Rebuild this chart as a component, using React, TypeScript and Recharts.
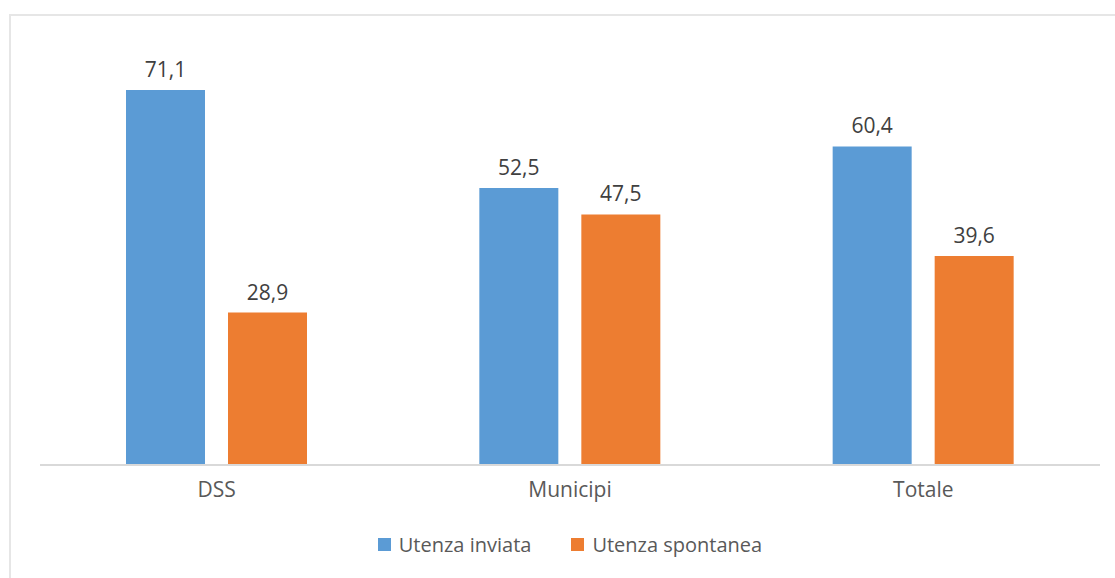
import React from "react";
import { BarChart, Bar, XAxis, YAxis, LabelList } from "recharts";

const categories = ["DSS", "Municipi", "Totale"];
const utenzaInviata = [71.1, 52.5, 60.4];
const utenzaSpontanea = [28.9, 47.5, 39.6];
const seriesNames = ["Utenza inviata", "Utenza spontanea"];
const colors = ["#5B9BD5", "#ED7D31"];

const data = categories.map((c, i) => ({
  name: c,
  inviata: utenzaInviata[i],
  spontanea: utenzaSpontanea[i],
}));

const fmt = (v: any) => Number(v).toFixed(1).replace(".", ",");
const FONT = "'Open Sans', 'Noto Sans', sans-serif";

export default function App() {
  return (
    <div
      style={{
        position: "absolute",
        left: 0,
        top: 0,
        width: 1115,
        height: 578,
        overflow: "hidden",
        background: "#fff",
        fontFamily: FONT,
      }}
    >
      <div
        style={{
          position: "absolute",
          left: 9,
          top: 14,
          width: 1200,
          height: 700,
          borderTop: "2px solid #e6e6e6",
          borderLeft: "2px solid #e6e6e6",
        }}
      />
      <div style={{ position: "absolute", left: 0, top: 0 }}>
        <BarChart
          width={1115}
          height={578}
          data={data}
          margin={{ top: 43, right: 15, bottom: 83, left: 40 }}
          barSize={79}
          barGap={23}
        >
          <YAxis hide domain={[0, 80]} />
          <XAxis
            dataKey="name"
            axisLine={{ stroke: "#d9d9d9", strokeWidth: 2 }}
            tickLine={false}
            tick={{ fill: "#595959", fontSize: 21, fontFamily: FONT }}
            tickMargin={11}
          />
          <Bar dataKey="inviata" fill={colors[0]} isAnimationActive={false}>
            <LabelList
              dataKey="inviata"
              position="top"
              offset={13}
              formatter={fmt}
              style={{ fill: "#404040", fontSize: 21, fontFamily: FONT }}
            />
          </Bar>
          <Bar dataKey="spontanea" fill={colors[1]} isAnimationActive={false}>
            <LabelList
              dataKey="spontanea"
              position="top"
              offset={13}
              formatter={fmt}
              style={{ fill: "#404040", fontSize: 21, fontFamily: FONT }}
            />
          </Bar>
        </BarChart>
      </div>
      <div
        style={{
          position: "absolute",
          left: 40,
          width: 1060,
          top: 531,
          display: "flex",
          justifyContent: "center",
          gap: 40,
          fontSize: 20,
          color: "#595959",
        }}
      >
        {seriesNames.map((n, i) => (
          <div key={n} style={{ display: "flex", alignItems: "center" }}>
            <span
              style={{
                display: "inline-block",
                width: 13,
                height: 13,
                background: colors[i],
                marginRight: 8,
              }}
            />
            <span>{n}</span>
          </div>
        ))}
      </div>
    </div>
  );
}
